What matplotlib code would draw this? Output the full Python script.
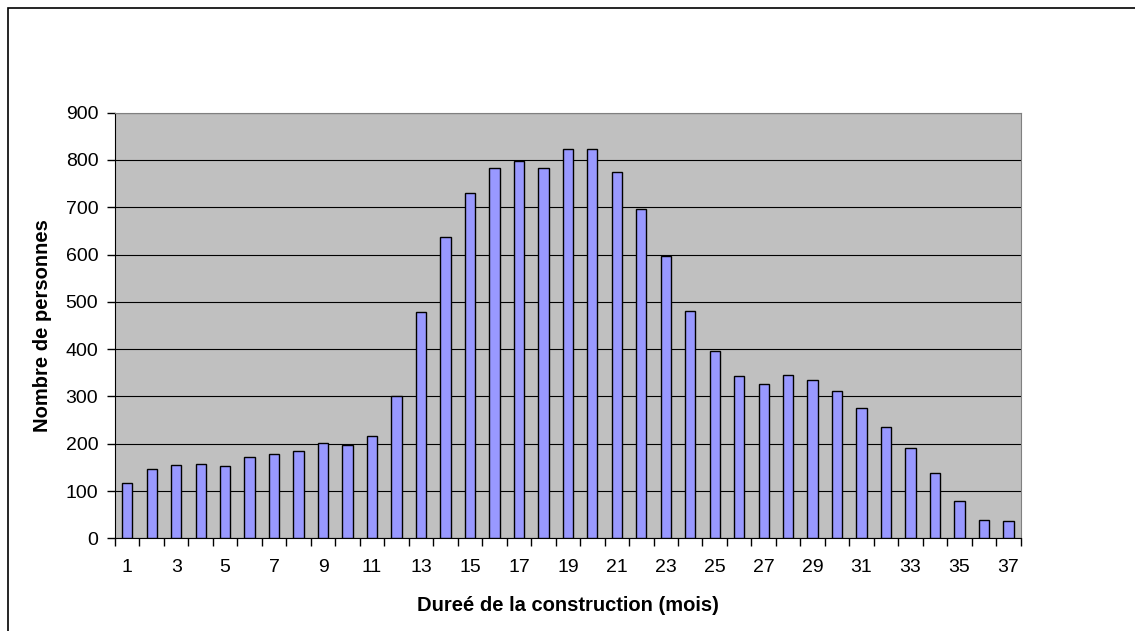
import matplotlib.pyplot as plt
from matplotlib.patches import Rectangle
from matplotlib.ticker import FixedLocator, NullFormatter

# durée (mois) and number of people
months = list(range(1, 38))
counts = [116, 146, 154, 157, 152, 171, 178, 184, 201, 197, 216, 300, 478,
          637, 731, 782, 798, 784, 823, 823, 774, 696, 597, 481, 397, 343,
          327, 346, 335, 311, 276, 236, 190, 138, 79, 39, 36]
tick_labels = [str(m) for m in months if m % 2 == 1]

plt.rcParams['font.family'] = ['Liberation Sans', 'DejaVu Sans']

fig = plt.figure(figsize=(11.35, 6.31), dpi=100)
ax = fig.add_axes([0.1013, 0.1469, 0.798, 0.6745])

# outer chart border (only left and top edges show in the picture)
fig.patches.append(Rectangle((8 / 1135, -0.1), 1.2, 1.1 - 8 / 631,
                             transform=fig.transFigure, fill=False,
                             edgecolor='black', linewidth=1.2))

ax.set_facecolor('#C0C0C0')
ax.bar(months, counts, width=0.42, color='#9999FF', edgecolor='black',
       linewidth=1.0, zorder=3)

ax.set_xlim(0.5, 37.5)
ax.set_ylim(0, 900)
ax.set_yticks(range(0, 901, 100))
ax.yaxis.grid(True, color='black', linewidth=0.8, zorder=0)
ax.set_axisbelow(True)

# category ticks between bars, labels on odd months
ax.xaxis.set_major_locator(FixedLocator([m + 0.5 for m in range(0, 38)]))
ax.xaxis.set_major_formatter(NullFormatter())
ax.xaxis.set_minor_locator(FixedLocator([m for m in months if m % 2 == 1]))
ax.set_xticklabels(tick_labels, minor=True)
ax.tick_params(axis='x', which='major', direction='out', length=6, width=1)
ax.tick_params(axis='x', which='minor', length=0, pad=15, labelsize=14)
ax.tick_params(axis='y', direction='out', length=6, width=1, labelsize=14, pad=6)

for side in ['top', 'right']:
    ax.spines[side].set_color('#808080')
for side in ['left', 'bottom']:
    ax.spines[side].set_color('black')

ax.set_xlabel('Dureé de la construction (mois)', fontsize=14.5, fontweight='bold', labelpad=14)
ax.set_ylabel('Nombre de personnes', fontsize=14.5, fontweight='bold', labelpad=10)

fig.savefig('out.png', dpi=100)
